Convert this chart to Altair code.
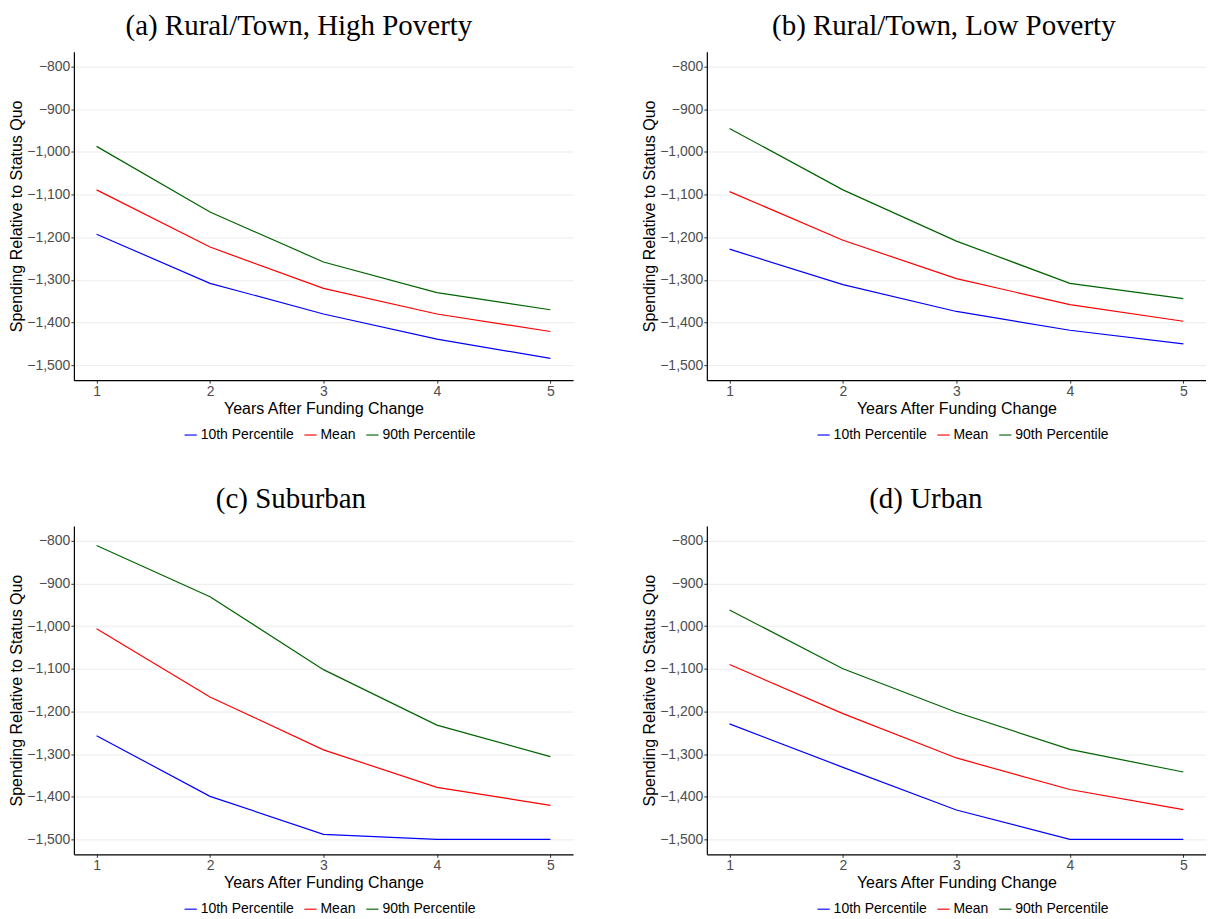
import altair as alt
import pandas as pd

years = [1, 2, 3, 4, 5]
series = ["10th Percentile", "Mean", "90th Percentile"]
colors = ["#0000FF", "#FF0000", "#006400"]

titles = [
    "(a) Rural/Town, High Poverty",
    "(b) Rural/Town, Low Poverty",
    "(c) Suburban",
    "(d) Urban",
]

# panel (a)
a_p10 = [-1193, -1308, -1380, -1439, -1484]
a_mean = [-1089, -1223, -1320, -1380, -1421]
a_p90 = [-987, -1141, -1258, -1330, -1370]
# panel (b)
b_p10 = [-1228, -1311, -1374, -1418, -1450]
b_mean = [-1093, -1207, -1297, -1358, -1397]
b_p90 = [-945, -1089, -1209, -1308, -1344]
# panel (c)
c_p10 = [-1257, -1399, -1488, -1500, -1500]
c_mean = [-1006, -1166, -1290, -1378, -1420]
c_p90 = [-811, -931, -1102, -1232, -1306]
# panel (d)
d_p10 = [-1229, -1331, -1431, -1500, -1500]
d_mean = [-1090, -1205, -1309, -1383, -1430]
d_p90 = [-962, -1100, -1202, -1289, -1342]

y_ticks = [-1500, -1400, -1300, -1200, -1100, -1000, -900, -800]

panel_data = [
    (a_p10, a_mean, a_p90),
    (b_p10, b_mean, b_p90),
    (c_p10, c_mean, c_p90),
    (d_p10, d_mean, d_p90),
]


def make_df(vals):
    rows = []
    for s, v in zip(series, vals):
        for yr, val in zip(years, v):
            rows.append({"year": yr, "value": val, "series": s})
    return pd.DataFrame(rows)


def panel(i, title_offset, title_dx):
    df = make_df(panel_data[i])
    return (
        alt.Chart(df)
        .mark_line(strokeWidth=1.2)
        .encode(
            x=alt.X(
                "year:Q",
                scale=alt.Scale(domain=[0.8, 5.2], nice=False, zero=False),
                axis=alt.Axis(values=years, format="d", grid=False,
                              title="Years After Funding Change"),
            ),
            y=alt.Y(
                "value:Q",
                scale=alt.Scale(domain=[-1535, -765], nice=False, zero=False),
                axis=alt.Axis(values=y_ticks, format=",.0f", grid=True,
                              title="Spending Relative to Status Quo"),
            ),
            color=alt.Color(
                "series:N",
                sort=series,
                scale=alt.Scale(domain=series, range=colors),
                legend=alt.Legend(
                    orient="none", legendX=110, legendY=377,
                    direction="horizontal", title=None,
                    symbolType="stroke", symbolSize=150,
                    symbolStrokeWidth=1.5, symbolOpacity=0.75,
                    labelFont="Liberation Sans", labelFontSize=14,
                    labelColor="#000000", labelOffset=3, columnPadding=6,
                    padding=0,
                ),
            ),
            detail="series:N",
        )
        .properties(
            width=500,
            height=329,
            title=alt.TitleParams(
                text=titles[i], font="Liberation Serif", fontSize=29,
                fontWeight="normal", color="#000000", anchor="middle",
                frame="bounds", baseline="alphabetic", offset=title_offset,
                dx=title_dx,
            ),
        )
    )


chart = (
    alt.concat(
        panel(0, -12, 8), panel(1, -12, 20), panel(2, -11, 0), panel(3, -11, 2),
        columns=2,
        spacing=alt.RowColnumber(row=146, column=134),
        bounds="flush",
    )
    .resolve_legend(color="independent")
    .properties(padding={"top": 3, "left": 0, "right": 0, "bottom": 0})
    .configure_view(stroke=None)
    .configure_axis(
        domainColor="#000000", domainWidth=1.2,
        tickColor="#333333", tickSize=3, tickWidth=1,
        labelColor="#4D4D4D", labelFont="Liberation Sans", labelFontSize=14,
        labelPadding=1,
        titleFont="Liberation Sans", titleFontSize=16, titleFontWeight="normal",
        titleColor="#000000", titlePadding=2,
        gridColor="#EBEBEB", gridWidth=1,
    )
)

chart.save("out.html", embed_options={"renderer": "svg", "actions": False})
